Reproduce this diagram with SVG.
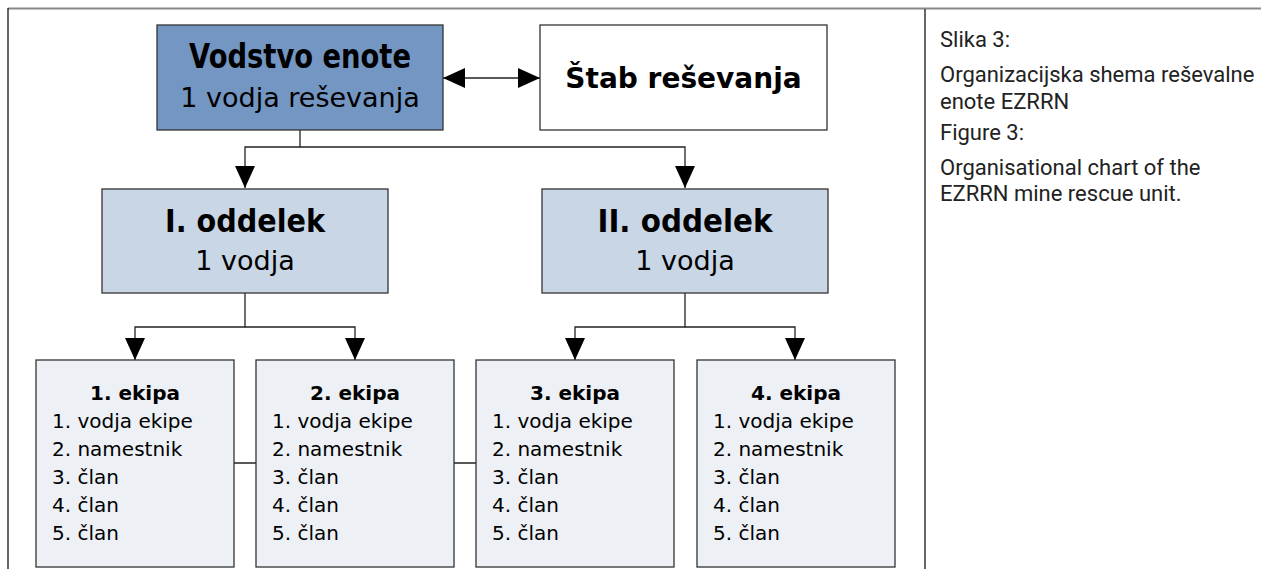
<svg xmlns="http://www.w3.org/2000/svg" width="1261" height="569" viewBox="0 0 1261 569">
<style>
.box{stroke:#333;stroke-width:1.3}
.top{fill:#7396C2}
.mid{fill:#C8D6E6}
.low{fill:#EDF0F5}
.wh{fill:#fff}
.b{font-family:"DejaVu Sans",Verdana,sans-serif;font-weight:bold;fill:#000}
.r{font-family:"DejaVu Sans",Verdana,sans-serif;fill:#000}
.cap{font-family:Roboto,"Liberation Sans",sans-serif;fill:#222;font-size:22px}
.con{fill:none;stroke:#222;stroke-width:1.3}
.frame{fill:none;stroke:#333;stroke-width:1.5}
</style>
<defs>
<marker id="ah" markerUnits="userSpaceOnUse" markerWidth="22" markerHeight="20" refX="22" refY="10" orient="auto-start-reverse" viewBox="0 0 22 20">
<path d="M0,0 L22,10 L0,20 z" fill="#000"/>
</marker>
</defs>
<rect width="1261" height="569" fill="#fff"/>
<g id="frame">
<line x1="8" y1="8.5" x2="1261" y2="8.5" stroke="#888" stroke-width="2"/>
<line x1="8" y1="8" x2="8" y2="569" class="frame"/>
<line x1="925" y1="9" x2="925" y2="569" class="frame"/>
</g>
<g id="connectors">
<path class="con" d="M300,130 V147 H245 V188" marker-end="url(#ah)"/>
<path class="con" d="M300,147 H685 V188" marker-end="url(#ah)"/>
<path class="con" d="M443,78 H540" marker-start="url(#ah)" marker-end="url(#ah)"/>
<path class="con" d="M245,293 V327 H135 V360" marker-end="url(#ah)"/>
<path class="con" d="M245,327 H355 V360" marker-end="url(#ah)"/>
<path class="con" d="M685,293 V327 H575 V360" marker-end="url(#ah)"/>
<path class="con" d="M685,327 H795 V360" marker-end="url(#ah)"/>
<path class="con" d="M234,463 H256 M454,463 H476"/>
</g>
<g id="vodstvo">
<rect class="box top" x="157" y="25" width="286" height="105"/>
<text class="b" x="300" y="68" font-size="33" text-anchor="middle" textLength="222" lengthAdjust="spacingAndGlyphs">Vodstvo enote</text>
<text class="r" x="300" y="107" font-size="27" text-anchor="middle">1 vodja reševanja</text>
</g>
<g id="stab">
<rect class="box wh" x="540" y="25" width="287" height="105"/>
<text class="b" x="683.5" y="88" font-size="28" text-anchor="middle">Štab reševanja</text>
</g>
<g id="oddelek1">
<rect class="box mid" x="102" y="189" width="286" height="104"/>
<text class="b" x="245" y="232" font-size="32" text-anchor="middle" textLength="160" lengthAdjust="spacingAndGlyphs">I. oddelek</text>
<text class="r" x="245" y="270" font-size="27" text-anchor="middle">1 vodja</text>
</g>
<g id="oddelek2">
<rect class="box mid" x="542" y="189" width="286" height="104"/>
<text class="b" x="685" y="232" font-size="32" text-anchor="middle" textLength="175" lengthAdjust="spacingAndGlyphs">II. oddelek</text>
<text class="r" x="685" y="270" font-size="27" text-anchor="middle">1 vodja</text>
</g>
<g id="ekipa1">
<rect class="box low" x="36" y="360" width="198" height="207"/>
<text class="b" x="135" y="400" font-size="20" text-anchor="middle">1. ekipa</text>
<text class="r" font-size="20"><tspan x="52" y="428">1. vodja ekipe</tspan><tspan x="52" y="456">2. namestnik</tspan><tspan x="52" y="484">3. član</tspan><tspan x="52" y="512">4. član</tspan><tspan x="52" y="540">5. član</tspan></text>
</g>
<g id="ekipa2">
<rect class="box low" x="256" y="360" width="198" height="207"/>
<text class="b" x="355" y="400" font-size="20" text-anchor="middle">2. ekipa</text>
<text class="r" font-size="20"><tspan x="272" y="428">1. vodja ekipe</tspan><tspan x="272" y="456">2. namestnik</tspan><tspan x="272" y="484">3. član</tspan><tspan x="272" y="512">4. član</tspan><tspan x="272" y="540">5. član</tspan></text>
</g>
<g id="ekipa3">
<rect class="box low" x="476" y="360" width="198" height="207"/>
<text class="b" x="575" y="400" font-size="20" text-anchor="middle">3. ekipa</text>
<text class="r" font-size="20"><tspan x="492" y="428">1. vodja ekipe</tspan><tspan x="492" y="456">2. namestnik</tspan><tspan x="492" y="484">3. član</tspan><tspan x="492" y="512">4. član</tspan><tspan x="492" y="540">5. član</tspan></text>
</g>
<g id="ekipa4">
<rect class="box low" x="697" y="360" width="198" height="207"/>
<text class="b" x="796" y="400" font-size="20" text-anchor="middle">4. ekipa</text>
<text class="r" font-size="20"><tspan x="713" y="428">1. vodja ekipe</tspan><tspan x="713" y="456">2. namestnik</tspan><tspan x="713" y="484">3. član</tspan><tspan x="713" y="512">4. član</tspan><tspan x="713" y="540">5. član</tspan></text>
</g>
<g id="caption">
<text class="cap" x="940" y="47">Slika 3:</text>
<text class="cap" x="940" y="82">Organizacijska shema reševalne</text>
<text class="cap" x="940" y="109">enote EZRRN</text>
<text class="cap" x="940" y="140">Figure 3:</text>
<text class="cap" x="940" y="175">Organisational chart of the</text>
<text class="cap" x="940" y="201">EZRRN mine rescue unit.</text>
</g>
</svg>
